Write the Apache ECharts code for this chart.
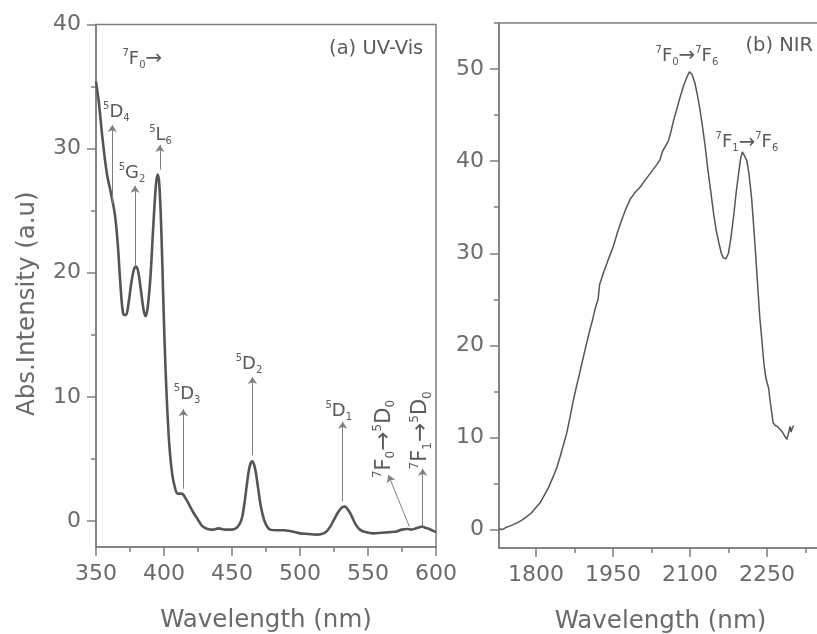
<!DOCTYPE html>
<html>
<head>
<meta charset="utf-8">
<script src="https://cdn.jsdelivr.net/npm/echarts@6/dist/echarts.min.js"></script>
<style>
  html, body { margin: 0; padding: 0; background: #fff; }
  #chart { width: 817px; height: 634px; }
</style>
</head>
<body>
<div id="chart"></div>
<script>
// (a) UV-Vis absorption, wavelength (nm) / intensity (a.u)
const uvX = [350, 352, 355, 358, 361, 364, 366, 368, 370, 372, 374, 376, 378, 379.5, 381, 383, 385, 386.5, 388, 390,
  392, 394, 395.3, 396.5, 398, 399.5, 401, 402.5, 404, 406, 408, 410, 413, 416, 419, 422, 425, 428, 432, 436,
  440, 445, 450, 454, 457, 459, 461, 463, 465, 467, 469, 471, 473, 475, 478, 483, 488, 494, 500, 506,
  512, 516, 519, 522, 525, 528, 531, 533, 535, 537, 539, 541, 544, 548, 554, 560, 566, 571, 575, 579,
  582, 585, 588, 590, 592, 595, 598, 600]
const uvY = [35.4, 33.8, 30.6, 28.0, 26.4, 24.6, 22.3, 19.0, 16.7, 16.6, 17.6, 19.2, 20.3, 20.5, 20.1, 18.6, 17.0, 16.5, 17.2, 19.6,
  23.5, 27.0, 27.9, 27.2, 23.5, 17.8, 12.6, 8.8, 6.0, 3.8, 2.7, 2.2, 2.2, 1.8, 1.2, 0.6, 0.1, -0.4, -0.65, -0.7,
  -0.6, -0.7, -0.7, -0.5, 0.1, 1.3, 3.0, 4.4, 4.8, 4.2, 2.8, 1.3, 0.3, -0.3, -0.7, -0.75, -0.75, -0.85, -1.0, -1.05,
  -1.1, -1.05, -0.9, -0.5, 0.1, 0.7, 1.1, 1.15, 0.95, 0.6, 0.15, -0.3, -0.7, -0.9, -1.0, -0.95, -0.9, -0.85, -0.7, -0.65,
  -0.7, -0.6, -0.5, -0.45, -0.55, -0.65, -0.8, -0.9]

// (b) NIR absorption
const nirX = [1728, 1735, 1742, 1750, 1762, 1772, 1782, 1791, 1800, 1808, 1815, 1824, 1834, 1841, 1847, 1853, 1860, 1866, 1873, 1880,
  1886, 1893, 1899, 1905, 1909, 1915, 1921, 1924, 1931, 1940, 1951, 1959, 1967, 1975, 1984, 1993, 2003, 2011, 2019, 2027,
  2035, 2042, 2046, 2052, 2058, 2062, 2068, 2074, 2080, 2087, 2093, 2099, 2104, 2110, 2115, 2120, 2125, 2130, 2135, 2140,
  2146, 2151, 2156, 2161, 2165, 2170, 2175, 2180, 2185, 2190, 2195, 2199, 2202, 2206, 2211, 2215, 2220, 2224, 2228, 2232,
  2236, 2240, 2244, 2248, 2253, 2257, 2262, 2266, 2270, 2275, 2280, 2285, 2289, 2292, 2295, 2297, 2299, 2302]
const nirY = [0.1, 0.0, 0.25, 0.4, 0.7, 1.0, 1.4, 1.8, 2.4, 2.9, 3.6, 4.5, 5.8, 6.8, 7.9, 9.1, 10.5, 12.1, 14.1, 15.8,
  17.2, 18.9, 20.3, 21.7, 22.5, 23.9, 25.0, 26.6, 27.8, 29.2, 30.8, 32.3, 33.6, 34.8, 35.9, 36.6, 37.2, 37.8, 38.4, 39.0,
  39.6, 40.2, 41.0, 41.6, 42.2, 43.0, 44.4, 45.6, 46.8, 48.1, 49.0, 49.7, 49.4, 48.4, 47.0, 45.4, 43.5, 41.4, 39.0, 36.9,
  34.3, 32.5, 31.2, 30.0, 29.5, 29.4, 30.0, 31.8, 34.0, 36.6, 38.8, 40.4, 41.0, 40.6, 40.0, 38.6, 36.0, 33.0, 29.8, 26.4,
  23.0, 20.6, 18.0, 16.4, 15.4, 13.6, 11.6, 11.3, 11.2, 10.9, 10.6, 10.1, 9.8, 10.5, 11.2, 10.6, 11.0, 11.3]

// tick values
const uvYLabels = [0, 10, 20, 30, 40]
const uvYMinor = [5, 15, 25, 35]
const nirXLabels = [1800, 1950, 2100, 2250]
const nirXMinor = [1875, 2025, 2175, 2325]
const nirYLabels = [0, 10, 20, 30, 40, 50]
const nirYMinor = [5, 15, 25, 35, 45, 55]

const FONT = 'DejaVu Sans'
const AXIS = '#7d7d7d'
const TXT = '#6a6a6a'
const INK = '#5a5a5a'

// rich text for term symbols: {sp|..} superscript, {sb|..} subscript
function richSet(size) {
  const small = Math.round(size * 0.58)
  return {
    mn: { fontFamily: FONT, fontSize: size, lineHeight: size + 4, color: INK },
    ar: { fontFamily: FONT, fontSize: size * 1.1, lineHeight: size + 4, color: INK },
    sp: { fontFamily: FONT, fontSize: small, lineHeight: small + 1, verticalAlign: 'top', color: INK },
    sb: { fontFamily: FONT, fontSize: small, lineHeight: small - 2, verticalAlign: 'bottom', color: INK }
  }
}
const term = (mult, L, j) => `{sp|${mult}}{mn|${L}}{sb|${j}}`

// labels anchored in data coords
function note(x, y, text, rotate, size) {
  return { coord: [x, y], label: { formatter: text, rotate: rotate || 0, rich: richSet(size || 18) } }
}
function arrow(x1, y1, x2, y2) {
  return [{ coord: [x1, y1] }, { coord: [x2, y2] }]
}

const uvNotes = [
  note(384, 37.2, term(7, 'F', 0) + '{ar|→}'),
  note(365, 32.9, term(5, 'D', 4)),
  note(376.5, 28.0, term(5, 'G', 2)),
  note(397.5, 31.1, term(5, 'L', 6)),
  note(417, 10.2, term(5, 'D', 3)),
  note(462.5, 12.6, term(5, 'D', 2)),
  note(528.5, 8.8, term(5, 'D', 1)),
  note(562, 6.6, term(7, 'F', 0) + '{ar|→}' + term(5, 'D', 0), 90, 21),
  note(589, 7.3, term(7, 'F', 1) + '{ar|→}' + term(5, 'D', 0), 90, 21),
  { coord: [556, 38.0], label: { formatter: '(a) UV-Vis', fontSize: 19.5 } }
]
const uvArrows = [
  arrow(362, 25.6, 362, 31.9),
  arrow(378.7, 20.5, 378.7, 27.0),
  arrow(397, 28.3, 397, 30.3),
  arrow(414.2, 2.6, 414.2, 9.0),
  arrow(465, 5.3, 465, 11.6),
  arrow(531.4, 1.6, 531.4, 8.0),
  arrow(580.4, -0.45, 565, 3.7),
  arrow(590.2, -0.45, 590.2, 4.2)
]
const nirNotes = [
  note(2094, 51.4, term(7, 'F', 0) + '{ar|→}' + term(7, 'F', 6)),
  note(2211, 42.0, term(7, 'F', 1) + '{ar|→}' + term(7, 'F', 6)),
  { coord: [2274, 52.5], label: { formatter: '(b) NIR', fontSize: 19.5 } }
]

const axisLine = { show: true, onZero: false, lineStyle: { color: AXIS, width: 1.5 } }
const tickLabel = { color: TXT, fontFamily: FONT, fontSize: 22, formatter: v => String(v) }
const nameStyle = { color: TXT, fontFamily: FONT, fontSize: 24.5 }

// tick-only axis laid over a main axis (minor ticks)
function tickAxis(gridIndex, min, max, values, len, extra) {
  return Object.assign({
    type: 'value', gridIndex, min, max,
    axisLine: { show: false, onZero: false },
    axisTick: { show: true, length: len, customValues: values, lineStyle: { color: AXIS, width: 1.5 } },
    axisLabel: { show: false },
    splitLine: { show: false }
  }, extra)
}

const markPointBase = {
  symbol: 'circle', symbolSize: 0, silent: true, animation: false,
  itemStyle: { color: 'transparent' },
  label: { show: true, position: 'inside', color: INK, fontFamily: FONT }
}
const markLineBase = {
  symbol: ['none', 'arrow'], symbolSize: 7, silent: true, animation: false,
  lineStyle: { color: '#808080', width: 1, type: 'solid' },
  label: { show: false }
}

const chart = echarts.init(document.getElementById('chart'))
chart.setOption({
  animation: false,
  backgroundColor: '#fff',
  grid: [
    { left: 96, top: 24.5, width: 340, height: 522.5, show: true, borderColor: AXIS, borderWidth: 1.5, outerBoundsMode: 'none' },
    { left: 499, top: 23, width: 345, height: 525, show: true, borderColor: AXIS, borderWidth: 1.5, outerBoundsMode: 'none' }
  ],
  xAxis: [
    {
      type: 'value', gridIndex: 0, min: 350, max: 600, interval: 50,
      axisLine, axisTick: { length: 9, lineStyle: { color: AXIS, width: 1.5 } },
      minorTick: { show: true, splitNumber: 2, length: 5, lineStyle: { color: AXIS, width: 1.5 } },
      axisLabel: Object.assign({ margin: 16 }, tickLabel),
      splitLine: { show: false }, minorSplitLine: { show: false },
      name: 'Wavelength (nm)', nameLocation: 'middle', nameGap: 61, nameTextStyle: nameStyle
    },
    {
      type: 'value', gridIndex: 1, min: 1728, max: 2400,
      axisLine,
      axisTick: { show: true, length: 9, customValues: nirXLabels, lineStyle: { color: AXIS, width: 1.5 } },
      axisLabel: Object.assign({ margin: 16, customValues: nirXLabels }, tickLabel),
      splitLine: { show: false },
      name: 'Wavelength (nm)', nameLocation: 'middle', nameGap: 61,
      nameTextStyle: Object.assign({ padding: [0, 22, 0, 0] }, nameStyle)
    },
    tickAxis(1, 1728, 2400, nirXMinor, 5, { position: 'bottom' })
  ],
  yAxis: [
    {
      type: 'value', gridIndex: 0, min: -2.1, max: 40,
      axisLine,
      axisTick: { show: true, length: 9, customValues: uvYLabels, lineStyle: { color: AXIS, width: 1.5 } },
      axisLabel: Object.assign({ margin: 15, customValues: uvYLabels }, tickLabel),
      splitLine: { show: false },
      name: 'Abs.Intensity (a.u)', nameLocation: 'middle', nameGap: 56,
      nameTextStyle: Object.assign({ padding: [0, 36, 0, 0] }, nameStyle)
    },
    tickAxis(0, -2.1, 40, uvYMinor, 5, { position: 'left' }),
    {
      type: 'value', gridIndex: 1, min: -2, max: 55,
      axisLine,
      axisTick: { show: true, length: 9, customValues: nirYLabels, lineStyle: { color: AXIS, width: 1.5 } },
      axisLabel: Object.assign({ margin: 15, customValues: nirYLabels }, tickLabel),
      splitLine: { show: false }
    },
    tickAxis(1, -2, 55, nirYMinor, 5, { position: 'left' })
  ],
  series: [
    {
      type: 'line', xAxisIndex: 0, yAxisIndex: 0,
      data: uvX.map((x, i) => [x, uvY[i]]),
      smooth: 0.35, showSymbol: false,
      lineStyle: { color: '#555', width: 2.6 },
      markPoint: Object.assign({ data: uvNotes }, markPointBase),
      markLine: Object.assign({ data: uvArrows }, markLineBase)
    },
    {
      type: 'line', xAxisIndex: 1, yAxisIndex: 2,
      data: nirX.map((x, i) => [x, nirY[i]]),
      showSymbol: false,
      lineStyle: { color: '#555', width: 1.5 },
      markPoint: Object.assign({ data: nirNotes }, markPointBase)
    }
  ]
})
</script>
</body>
</html>
